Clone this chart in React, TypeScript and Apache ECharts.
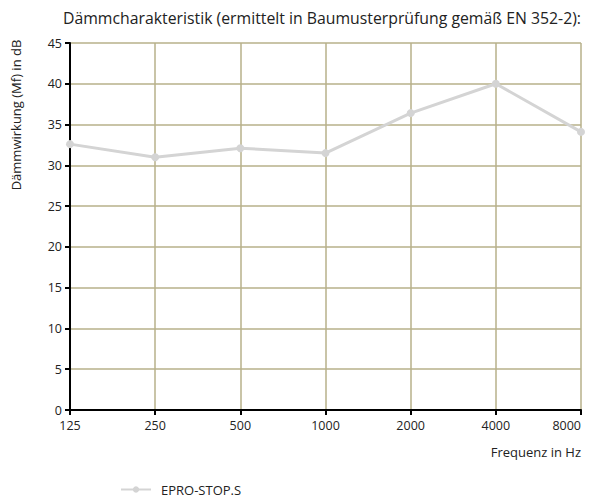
import React, { useEffect, useRef } from "react";
import * as echarts from "echarts";

const categories = ["125", "250", "500", "1000", "2000", "4000", "8000"];
const values = [32.6, 31.0, 32.1, 31.5, 36.4, 40.0, 34.1];
const seriesName = "EPRO-STOP.S";
const titleText = "Dämmcharakteristik (ermittelt in Baumusterprüfung gemäß EN 352-2):";
const yName = "Dämmwirkung (Mf) in dB";
const xName = "Frequenz in Hz";

const FONT = "'Open Sans', 'Noto Sans', sans-serif";
const GRID = "#b7b08a";

export default function App() {
  const ref = useRef<HTMLDivElement>(null);
  useEffect(() => {
    const chart = echarts.init(ref.current!, null, { renderer: "svg" });
    chart.setOption({
      animation: false,
      textStyle: { fontFamily: FONT },
      title: {
        text: titleText,
        left: 317,
        textAlign: "center",
        top: 5,
        textStyle: { fontSize: 15.8, fontWeight: "normal", color: "#222", fontFamily: FONT },
      },
      grid: { left: 70, right: 10, top: 43, bottom: 90, outerBoundsMode: "none", containLabel: false },
      legend: {
        data: [{ name: seriesName }],
        left: 115,
        top: 481,
        padding: [2, 5, 2, 5],
        itemWidth: 30,
        itemHeight: 8,
        textStyle: { fontSize: 13, color: "#222", fontFamily: FONT, padding: [0, 0, 0, 5] },
      },
      graphic: [
        {
          type: "text",
          x: 16,
          y: 115,
          rotation: Math.PI / 2,
          style: {
            text: yName,
            fontSize: 13,
            fontFamily: FONT,
            fill: "#222",
            align: "center",
            verticalAlign: "middle",
          },
        },
        {
          type: "text",
          x: 581,
          y: 452,
          style: {
            text: xName,
            fontSize: 13,
            fontFamily: FONT,
            fill: "#222",
            align: "right",
            verticalAlign: "middle",
          },
        },
      ],
      xAxis: {
        type: "category",
        data: categories,
        boundaryGap: false,
        axisLine: { show: true, lineStyle: { color: "#000", width: 2 } },
        axisTick: { show: true, alignWithLabel: true, length: 5, lineStyle: { color: "#000", width: 2 } },
        axisLabel: { color: "#222", fontSize: 12.5, margin: 9, fontFamily: FONT, alignMaxLabel: "right" },
        splitLine: { show: true, lineStyle: { color: GRID, width: 1.5 } },
      },
      yAxis: {
        type: "value",
        min: 0,
        max: 45,
        interval: 5,
        axisLine: { show: true, lineStyle: { color: "#000", width: 2 } },
        axisTick: { show: true, length: 5, lineStyle: { color: "#000", width: 2 } },
        axisLabel: { color: "#222", fontSize: 12.5, margin: 8, fontFamily: FONT },
        splitLine: { show: true, lineStyle: { color: GRID, width: 1.5 } },
      },
      series: [
        {
          name: seriesName,
          type: "line",
          data: values,
          symbol: "circle",
          symbolSize: 8,
          lineStyle: { color: "#d4d4d4", width: 3 },
          itemStyle: { color: "#d4d4d4" },
        },
      ],
    });
    return () => chart.dispose();
  }, []);
  return <div ref={ref} style={{ width: 591, height: 500, position: "absolute", left: 0, top: 0 }} />;
}
